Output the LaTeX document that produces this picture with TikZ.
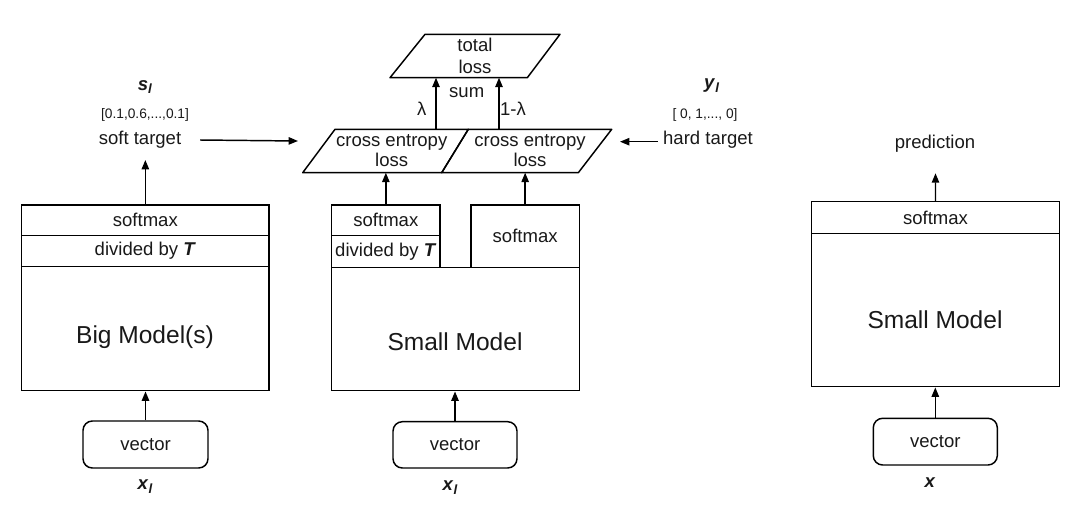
\documentclass[tikz,border=0pt]{standalone}
\usepackage{fontspec}
\setmainfont{Liberation Sans}
\usetikzlibrary{arrows.meta,fit}
\newcommand\txtN{\fontsize{13.9}{16.3}\selectfont}
\newcommand\txtC{\fontsize{13.9}{15.5}\selectfont}
\newcommand\txtB{\fontsize{18.4}{22}\selectfont}
\newcommand\txtS{\fontsize{10.3}{12}\selectfont}
\newcommand\bitl[1]{\textbf{\textit{#1}}}
\newcommand\subl[1]{\bitl{#1}\raisebox{-0.4ex}{\fontsize{10}{11}\selectfont\bitl{l}}}
\tikzset{
  box/.style={draw, line width=1.1pt, inner sep=0pt},
  vec/.style={draw, line width=1.1pt, rounded corners=7pt, inner sep=0pt},
  lbl/.style={inner sep=0pt, font=\txtN, align=center, text=black!90},
  arr/.style={-{Triangle[length=7pt,width=5.5pt]}, line width=1.1pt},
  para/.style={draw, line width=1.1pt, line join=round},
}
\begin{document}
\begin{tikzpicture}[x=0.75pt,y=-0.75pt]
\useasboundingbox[fill=white] (0,0) rectangle (1080,525);

% ---------- left: big model ----------
\node[box, fit={(21.7,205) (269,235.7)}] (bsm) {};
\node[box, fit={(21.7,235.7) (269,266.7)}] (bdiv) {};
\node[box, fit={(21.7,266.7) (269,390.7)}] (big) {};
\node[lbl] (bsml) at (bsm.center) {softmax};
\node[lbl] (bdivl) at (bdiv.center) {divided by \bitl{T}};
\node[lbl, font=\txtB] (bigl) at (145,337) {Big Model(s)};
\node[vec, fit={(83,421) (208,468)}] (bvec) {};
\node[lbl] (bvecl) at (bvec.center) {vector};
\node[lbl] (bx) at (145,487) {\subl{x}};
\draw[arr] (bvec.north) -- (bvec.north |- big.south);

\node[lbl] (sl) at (145,87) {\subl{s}};
\node[lbl, font=\txtS] (svals) at (145,115) {[0.1,0.6,...,0.1]};
\node[lbl] (st) at (140,140) {soft target};
\coordinate (stin) at (145.35,160);
\draw[arr] (bsm.north) -- (stin);
\coordinate (stend) at (298,141);
\draw[arr] ([xshift=14pt]st.east) -- (stend);

% ---------- middle: small model ----------
\node[box, fit={(331.7,205) (440,235.7)}] (msm) {};
\node[box, fit={(331.7,235.7) (440,267.3)}] (mdiv) {};
\node[box, fit={(471,205) (579.3,267.3)}] (msm2) {};
\node[box, fit={(331.7,267.3) (579.3,390.7)}] (small) {};
\node[lbl] (msml) at (msm.center) {softmax};
\node[lbl] (mdivl) at (mdiv.center) {divided by \bitl{T}};
\node[lbl] (msm2l) at (msm2.center) {softmax};
\node[lbl, font=\txtB] (smalll) at (455,341.5) {Small Model};
\node[vec, fit={(393,421.7) (517,468)}] (mvec) {};
\node[lbl] (mvecl) at (mvec.center) {vector};
\node[lbl] (mx) at (450,488) {\subl{x}};
\draw[arr] (mvec.north) -- (mvec.north |- small.south);

% cross entropy parallelograms
\draw[para] (302.7,172.7) -- (335,129.3) -- (468.3,129.3) -- (441.7,172.7) -- cycle;
\draw[para] (441.7,172.7) -- (468.3,129.3) -- (611.7,129.3) -- (578.3,172.7) -- cycle;
\node[lbl, font=\txtC] (ce1) at (391.7,150.5) {cross entropy\\loss};
\node[lbl, font=\txtC] (ce2) at (530,150.5) {cross entropy\\loss};
\coordinate (ce1in) at (385.85,172.7);
\coordinate (ce2in) at (525.15,172.7);
\draw[arr] (msm.north) -- (ce1in);
\draw[arr] (msm2.north) -- (ce2in);

% total loss
\draw[para] (390,77.7) -- (425,34.3) -- (560,34.3) -- (527.3,77.7) -- cycle;
\node[lbl, font=\txtN] (tl) at (475,56) {total\\loss};
\coordinate (a1s) at (436,129.3);
\coordinate (a1e) at (436,77.7);
\coordinate (a2s) at (499,129.3);
\coordinate (a2e) at (499,77.7);
\draw[arr] (a1s) -- (a1e);
\draw[arr] (a2s) -- (a2e);
\node[lbl] (lam) at (421.7,108.5) {λ};
\node[lbl] (sum) at (466.7,93) {sum};
\node[lbl] (lam2) at (513,108.5) {1-λ};

% hard target
\node[lbl] (yl) at (711.7,86) {\subl{y}};
\node[lbl, font=\txtS] (yvals) at (705,115) {[ 0, 1,..., 0]};
\node[lbl] (ht) at (708,139.5) {hard target};
\coordinate (htend) at (620,141.7);
\draw[arr] ([xshift=-4pt]ht.west |- htend) -- (htend);

% ---------- right: small model ----------
\node[box, fit={(811.7,201.7) (1059.3,233.3)}] (rsm) {};
\node[box, fit={(811.7,233.3) (1059.3,386.7)}] (rmod) {};
\node[lbl] (rsml) at (rsm.center) {softmax};
\node[lbl, font=\txtB] (rmodl) at (935,320) {Small Model};
\node[vec, fit={(873.3,418.3) (997.3,465)}] (rvec) {};
\node[lbl] (rvecl) at (rvec.center) {vector};
\node[lbl] (rx) at (930,483) {\bitl{x}};
\draw[arr] (rvec.north) -- (rvec.north |- rmod.south);
\node[lbl] (pred) at (935,143.3) {prediction};
\coordinate (predin) at (935.5,173.3);
\draw[arr] (rsm.north) -- (predin);
\end{tikzpicture}
\end{document}
